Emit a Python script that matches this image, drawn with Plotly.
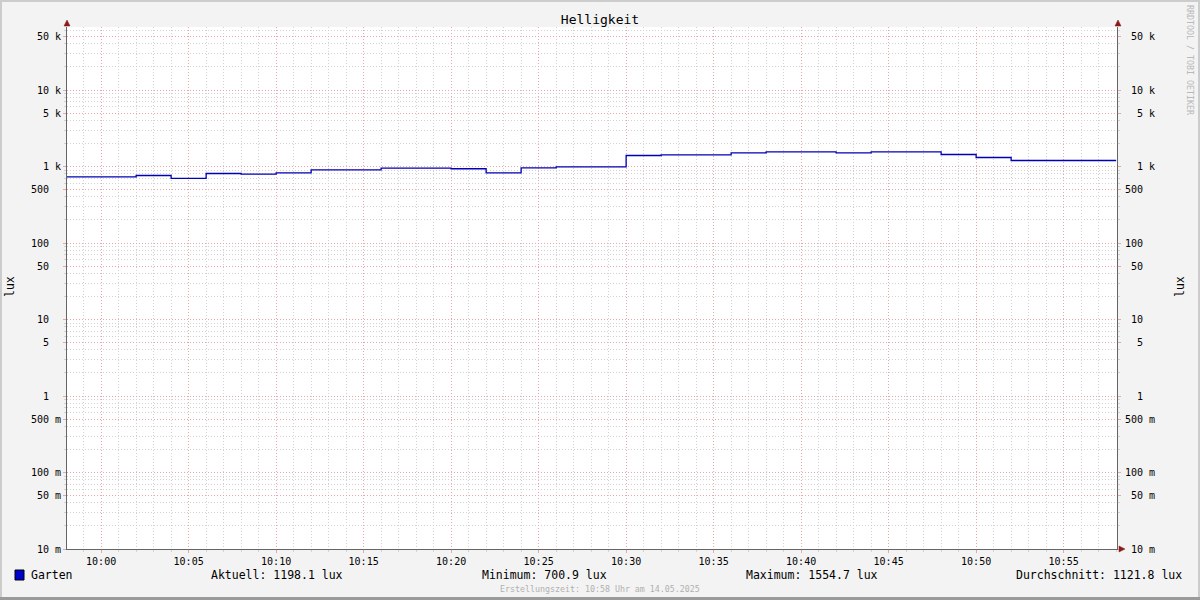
import plotly.graph_objects as go
import math

# ---- data ----
times = ["2025-05-14 09:58", "2025-05-14 10:00", "2025-05-14 10:02", "2025-05-14 10:04",
         "2025-05-14 10:06", "2025-05-14 10:08", "2025-05-14 10:10", "2025-05-14 10:12",
         "2025-05-14 10:14", "2025-05-14 10:16", "2025-05-14 10:18", "2025-05-14 10:20",
         "2025-05-14 10:22", "2025-05-14 10:24", "2025-05-14 10:26", "2025-05-14 10:28",
         "2025-05-14 10:30", "2025-05-14 10:32", "2025-05-14 10:34", "2025-05-14 10:36",
         "2025-05-14 10:38", "2025-05-14 10:40", "2025-05-14 10:42", "2025-05-14 10:44",
         "2025-05-14 10:46", "2025-05-14 10:48", "2025-05-14 10:50", "2025-05-14 10:52",
         "2025-05-14 10:54", "2025-05-14 10:56", "2025-05-14 10:58"]
garten = [733, 733, 763, 700.9, 810, 793, 827, 906, 906, 950, 950, 934, 827, 961, 991, 991,
          1393, 1422, 1422, 1510, 1554.7, 1554.7, 1510, 1550, 1550, 1435, 1312,
          1198.1, 1198.1, 1198.1, 1198.1]

y_tickvals = [0.01, 0.05, 0.1, 0.5, 1, 5, 10, 50, 100, 500, 1000, 5000, 10000, 50000]
y_ticktext = ["10 m", "50 m", "100 m", "500 m", "1", "5", "10", "50", "100", "500",
              "1 k", "5 k", "10 k", "50 k"]
y_minor = [m * 10 ** e for e in range(-2, 5) for m in (2, 3, 4, 6, 7, 8, 9) if m * 10 ** e < 66000]

legend_texts = ["Aktuell: 1198.1 lux", "Minimum: 700.9 lux", "Maximum: 1554.7 lux",
                "Durchschnitt: 1121.8 lux"]
title_text = "Helligkeit"
series_name = "Garten"
unit = "lux"
footer = "Erstellungszeit: 10:58 Uhr am 14.05.2025"
watermark = "RRDTOOL / TOBI OETIKER"

# ---- geometry helpers ----
W, H = 1200, 600
L, R, T, B = 67, 1117, 27, 549


def px(x):
    return (x - L) / (R - L)


def py(y):
    return (B - y) / (B - T)


def fmt(lbl):
    parts = lbl.split(" ")
    num = parts[0]
    suf = parts[1] if len(parts) > 1 else " "
    s = num.rjust(3) + " " + suf
    return s.replace(" ", "\u00a0")


FONT = "DejaVu Sans Mono"
MAJ = "#e6a8a8"
MIN = "#d2d2d2"
AX = "#656565"
ARROW = "#8b1a1a"

fig = go.Figure()
fig.add_trace(go.Scatter(x=times, y=garten, mode="lines", line=dict(color="#0000b8", width=1.3, shape="hv"),
                         name=series_name, showlegend=False, hoverinfo="x+y"))
fig.add_trace(go.Scatter(x=times, y=garten, mode="none", yaxis="y2", showlegend=False, hoverinfo="skip"))

yr = [-2, -2 + (B - T) / 76.5]

common_y = dict(type="log", range=yr, tickmode="array", tickvals=y_tickvals,
                ticktext=[fmt(t) for t in y_ticktext],
                tickfont=dict(family=FONT, size=10, color="#000000"),
                ticks="outside", ticklen=3, tickcolor=MAJ, zeroline=False,
                showline=True, linecolor=AX, linewidth=1)

fig.update_layout(
    width=W, height=H,
    paper_bgcolor="#f3f3f3", plot_bgcolor="#ffffff",
    margin=dict(l=L, r=W - R, t=T, b=H - B, autoexpand=False),
    title=dict(text=title_text, x=0.5, xanchor="center", y=1 - 19 / H, yanchor="middle",
               font=dict(family=FONT, size=13, color="#000000")),
    xaxis=dict(type="date", range=["2025-05-14 09:58:03", "2025-05-14 10:58:03"],
               tick0="2025-05-14 10:00", dtick=300000, tickformat="%H:%M",
               tickfont=dict(family=FONT, size=10, color="#000000"),
               showgrid=True, gridcolor=MAJ, griddash="1px,2px", gridwidth=1,
               ticks="outside", ticklen=3, tickcolor=MAJ,
               minor=dict(dtick=60000, tick0="2025-05-14 10:00", showgrid=True, gridcolor=MIN,
                          griddash="1px,2px", ticks="outside", ticklen=2, tickcolor=MIN),
               showline=True, linecolor=AX, linewidth=1, zeroline=False, mirror=False),
    yaxis=dict(**common_y, side="left", showgrid=True, gridcolor=MAJ, griddash="1px,2px",
               minor=dict(tickmode="array", tickvals=y_minor, showgrid=True, gridcolor=MIN,
                          griddash="1px,2px", ticks="outside", ticklen=2, tickcolor=MIN),
               ticklabelstandoff=0),
    yaxis2=dict(**common_y, side="right", overlaying="y", showgrid=False,
                minor=dict(tickmode="array", tickvals=y_minor, showgrid=False,
                           ticks="outside", ticklen=2, tickcolor=MIN),
                ticklabelstandoff=2),
    showlegend=False,
)

shapes = []
# frame
shapes.append(dict(type="rect", xref="paper", yref="paper", x0=px(1), x1=px(W - 1), y0=py(H - 1), y1=py(1),
                   line=dict(color="#cccccc", width=2), fillcolor="rgba(0,0,0,0)", layer="above"))
shapes.append(dict(type="line", xref="paper", yref="paper", x0=px(0), x1=px(W), y0=py(H - 1.5), y1=py(H - 1.5),
                   line=dict(color="#9a9a9a", width=3)))
# axis arrows
def tri(pts):
    return "M " + " L ".join(f"{px(a)},{py(b)}" for a, b in pts) + " Z"

shapes.append(dict(type="path", xref="paper", yref="paper", path=tri([(64, 26), (70, 26), (67, 20)]),
                   fillcolor=ARROW, line=dict(color=ARROW, width=0.5)))
shapes.append(dict(type="path", xref="paper", yref="paper", path=tri([(1115, 26), (1121, 26), (1118, 20)]),
                   fillcolor=ARROW, line=dict(color=ARROW, width=0.5)))
shapes.append(dict(type="path", xref="paper", yref="paper", path=tri([(1119, 546), (1119, 552), (1125, 549)]),
                   fillcolor=ARROW, line=dict(color=ARROW, width=0.5)))
# legend swatch
shapes.append(dict(type="rect", xref="paper", yref="paper", x0=px(15), x1=px(24), y0=py(580), y1=py(570),
                   fillcolor="#0000cc", line=dict(color="#000000", width=1)))
fig.update_layout(shapes=shapes)

ann = []
def text(x, y, s, size=11.5, color="#000000", xanchor="left", angle=0):
    ann.append(dict(x=px(x), y=py(y), xref="paper", yref="paper", text=s, showarrow=False,
                    xanchor=xanchor, yanchor="middle", textangle=angle,
                    font=dict(family=FONT, size=size, color=color)))

text(29, 575, series_name)
text(209, 575, legend_texts[0])
text(480, 575, legend_texts[1])
text(744, 575, legend_texts[2])
text(1184, 575, legend_texts[3], xanchor="right")
text(600, 589, footer, size=8.3, color="#b0b0b0", xanchor="center")
text(10, 287, unit, size=11.5, xanchor="center", angle=-90)
text(1180, 287, unit, size=11.5, xanchor="center", angle=-90)
ann.append(dict(x=px(1190), y=py(60), xref="paper", yref="paper", text=watermark, showarrow=False,
                xanchor="center", yanchor="middle", textangle=90,
                font=dict(family=FONT, size=8.3, color="#b8b8b8")))
fig.update_layout(annotations=ann)

fig.write_html("out.html", config={"displayModeBar": False},
               post_script="document.body.style.margin='0';document.body.style.overflow='hidden';")
